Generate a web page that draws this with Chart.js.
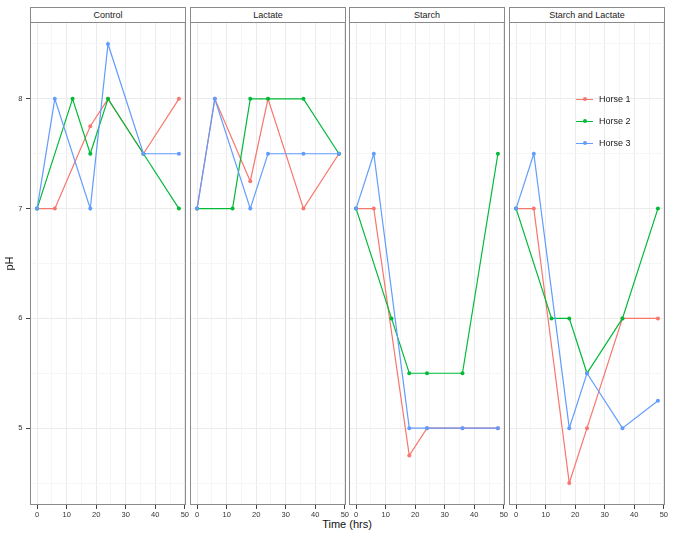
<!DOCTYPE html>
<html>
<head>
<meta charset="utf-8">
<script src="https://cdn.jsdelivr.net/npm/chart.js@4"></script>
<style>
body { margin: 0; background: #fff; font-family: "Liberation Sans", Arial, sans-serif; }
#wrap { position: relative; width: 675px; height: 538px; overflow: hidden; }
#wrap canvas { position: absolute; top: 0; }
.strip { position: absolute; top: 7px; height: 16px; box-sizing: border-box; border: 1px solid #8a8a8a; background: #fff;
         font-size: 9px; line-height: 14px; text-align: center; color: #1a1a1a; }
#xtitle { position: absolute; left: 297px; width: 100px; top: 518px; font-size: 11px; line-height: 13px; text-align: center; color: #111; }
.key { position: absolute; height: 14px; line-height: 14px; font-size: 9px; color: #1a1a1a; }
.key .ln { position: absolute; left: 0; top: 6.5px; width: 17px; height: 1.2px; }
.key .dt { position: absolute; left: 6.5px; top: 5px; width: 4px; height: 4px; border-radius: 50%; }
.key .tx { position: absolute; left: 23px; top: 0; white-space: nowrap; }
</style>
</head>
<body>
<div id="wrap">
  <div id="xtitle">Time (hrs)</div>
</div>
<script>
// sampling times (hrs) and pH readings, null = no reading
const times = [0, 6, 12, 18, 24, 36, 48];
const panels = ['Control', 'Lactate', 'Starch', 'Starch and Lactate'];
const horses = ['Horse 1', 'Horse 2', 'Horse 3'];
const horseColors = ['#F8766D', '#00BA38', '#619CFF'];

const controlPH = [
    [7, 7, null, 7.75, 8, 7.5, 8],
    [7, null, 8, 7.5, 8, 7.5, 7],
    [7, 8, null, 7, 8.5, 7.5, 7.5]
];
const lactatePH = [
    [7, 8, null, 7.25, 8, 7, 7.5],
    [7, null, 7, 8, 8, 8, 7.5],
    [7, 8, null, 7, 7.5, 7.5, 7.5]
];
const starchPH = [
    [7, 7, null, 4.75, 5, 5, 5],
    [7, null, 6, 5.5, 5.5, 5.5, 7.5],
    [7, 7.5, null, 5, 5, 5, 5]
];
const starchLactatePH = [
    [7, 7, null, 4.5, 5, 6, 6],
    [7, null, 6, 6, 5.5, 6, 7],
    [7, 7.5, null, 5, 5.5, 5, 5.25]
];
const phByPanel = [controlPH, lactatePH, starchPH, starchLactatePH];

const xTicks = [0, 10, 20, 30, 40, 50];
const xGrid = [0, 5, 10, 15, 20, 25, 30, 35, 40, 45, 50];
const yTicks = [5, 6, 7, 8];
const yGrid = [4.5, 5, 5.5, 6, 6.5, 7, 7.5, 8, 8.5];

const panelLeft = [30, 190, 349, 509];
const panelW = 156;
const side = 8; // spare room so edge tick labels are not cut
const majorGrid = '#ebebeb';
const minorGrid = '#f6f6f6';

Chart.defaults.font.family = '"Liberation Sans", Arial, sans-serif';

const panelBorder = {
    id: 'panelBorder',
    afterDraw(chart) {
        const {ctx, chartArea: a} = chart;
        ctx.save();
        ctx.strokeStyle = '#8a8a8a';
        ctx.lineWidth = 1;
        ctx.strokeRect(Math.round(a.left) + 0.5, Math.round(a.top) + 0.5, Math.round(a.width) - 1, Math.round(a.height) - 1);
        ctx.restore();
    }
};

function toPoints(vals) {
    return times.map((t, k) => ({x: t, y: vals[k]})).filter(p => p.y !== null);
}

const wrap = document.getElementById('wrap');

panels.forEach(function (name, i) {
    const axisW = i === 0 ? 30 : 0;
    const cv = document.createElement('canvas');
    cv.width = axisW + panelW + 2 * side;
    cv.height = 538;
    cv.style.left = (panelLeft[i] - axisW - side) + 'px';
    wrap.appendChild(cv);

    const strip = document.createElement('div');
    strip.className = 'strip';
    strip.style.left = panelLeft[i] + 'px';
    strip.style.width = panelW + 'px';
    strip.textContent = name;
    wrap.appendChild(strip);

    new Chart(cv.getContext('2d'), {
        type: 'line',
        data: {
            datasets: horses.map((h, k) => ({
                label: h,
                data: toPoints(phByPanel[i][k]),
                borderColor: horseColors[k],
                backgroundColor: horseColors[k],
                borderWidth: 1.2,
                pointRadius: 2,
                pointHoverRadius: 2,
                pointBorderWidth: 0,
                tension: 0,
                order: 3 - k
            }))
        },
        options: {
            responsive: false,
            animation: false,
            events: [],
            layout: {padding: {left: side, right: side, top: 22, bottom: 0}},
            plugins: {legend: {display: false}, tooltip: {enabled: false}},
            scales: {
                x: {
                    type: 'linear', min: -2.4, max: 50.4,
                    afterBuildTicks: ax => { ax.ticks = xGrid.map(v => ({value: v})); },
                    afterFit: ax => { ax.height = 33; ax.paddingLeft = 0; ax.paddingRight = 0; },
                    ticks: {
                        autoSkip: false, maxRotation: 0, minRotation: 0, padding: 1.5,
                        color: '#333', font: {size: 7.5},
                        callback: v => xTicks.includes(v) ? String(v) : ''
                    },
                    grid: {
                        color: c => xTicks.includes(c.tick.value) ? majorGrid : minorGrid,
                        tickColor: c => xTicks.includes(c.tick.value) ? '#444' : 'rgba(0,0,0,0)',
                        tickLength: 4, lineWidth: 1
                    },
                    border: {display: false}
                },
                y: {
                    type: 'linear', min: 4.3, max: 8.7,
                    afterBuildTicks: ax => { ax.ticks = yGrid.map(v => ({value: v})); },
                    afterFit: ax => { ax.width = axisW; ax.paddingTop = 0; ax.paddingBottom = 0; },
                    ticks: {
                        display: i === 0, padding: 3.5,
                        color: '#333', font: {size: 7.5},
                        callback: v => yTicks.includes(v) ? String(v) : ''
                    },
                    grid: {
                        color: c => yTicks.includes(c.tick.value) ? majorGrid : minorGrid,
                        tickColor: c => yTicks.includes(c.tick.value) ? '#444' : 'rgba(0,0,0,0)',
                        drawTicks: i === 0, tickLength: 4, lineWidth: 1
                    },
                    title: {display: i === 0, text: 'pH', color: '#111', font: {size: 11}, padding: {top: 3.5, bottom: 0}},
                    border: {display: false}
                }
            }
        },
        plugins: [panelBorder]
    });
});

// legend inside the last panel
horses.forEach(function (h, k) {
    const row = document.createElement('div');
    row.className = 'key';
    row.style.left = '576px';
    row.style.top = (92.3 + 22 * k) + 'px';
    row.innerHTML = '<span class="ln" style="background:' + horseColors[k] + '"></span>' +
        '<span class="dt" style="background:' + horseColors[k] + '"></span>' +
        '<span class="tx">' + h + '</span>';
    wrap.appendChild(row);
});
</script>
</body>
</html>
